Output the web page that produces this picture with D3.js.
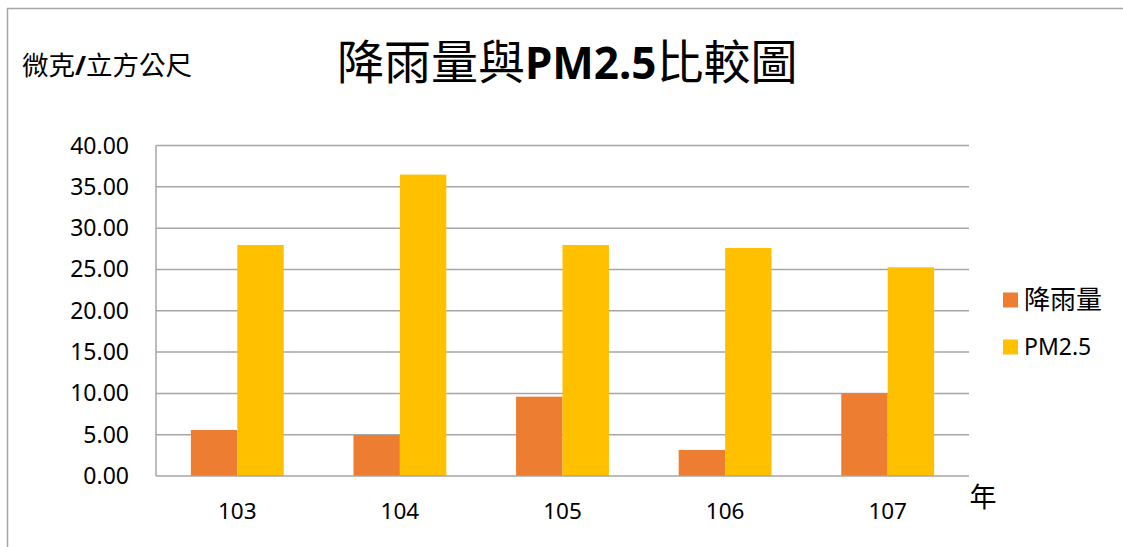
<!DOCTYPE html>
<html><head><meta charset="utf-8">
<script src="https://cdn.jsdelivr.net/npm/d3@7"></script>
<style>
html,body{margin:0;padding:0;background:#fff;}
svg{display:block;font-family:"Noto Sans","Noto Sans CJK TC",sans-serif;}
</style></head>
<body><svg id="c" width="1123" height="547"></svg>
<script>
const years = ["103","104","105","106","107"];
const seriesNames = ["降雨量","PM2.5"];
const rainfall = [5.57, 4.96, 9.60, 3.15, 10.01];
const pm25 = [27.96, 36.48, 27.96, 27.60, 25.26];
const yTicks = [0,5,10,15,20,25,30,35,40];
const colors = ["#ED7D31","#FFC000"];

const svg = d3.select("#c");
const m = {left:156, right:969, top:145.5, bottom:476};

svg.append("rect").attr("x",7.5).attr("y",8.5).attr("width",1300).attr("height",700)
  .attr("fill","#fff").attr("stroke","#a6a6a6").attr("stroke-width",1.5);

const y = d3.scaleLinear().domain([0,40]).range([m.bottom,m.top]);
const x0 = d3.scaleBand().domain(years).range([m.left,m.right]).padding(0);
const x1 = d3.scaleBand().domain(seriesNames)
  .range([x0.bandwidth()*0.2145, x0.bandwidth()*0.7855]).padding(0);

// gridlines
svg.append("g").selectAll("line").data(yTicks.filter(d=>d>0)).join("line")
  .attr("x1",m.left).attr("x2",m.right)
  .attr("y1",d=>y(d)).attr("y2",d=>y(d))
  .attr("stroke","#a6a6a6").attr("stroke-width",1.5);

// bars
const data = years.map((yr,i)=>({yr, vals:[rainfall[i], pm25[i]]}));
const g = svg.append("g").selectAll("g").data(data).join("g")
  .attr("transform",d=>`translate(${x0(d.yr)},0)`);
g.selectAll("rect").data(d=>d.vals.map((v,j)=>({v,name:seriesNames[j],j}))).join("rect")
  .attr("x",d=>x1(d.name)).attr("width",x1.bandwidth())
  .attr("y",d=>y(d.v)).attr("height",d=>y(0)-y(d.v))
  .attr("fill",d=>colors[d.j]);

// axes lines
svg.append("line").attr("x1",m.left).attr("x2",m.left).attr("y1",m.top).attr("y2",m.bottom)
  .attr("stroke","#a6a6a6").attr("stroke-width",1.5);
svg.append("line").attr("x1",m.left).attr("x2",m.right).attr("y1",m.bottom).attr("y2",m.bottom)
  .attr("stroke","#a6a6a6").attr("stroke-width",1.5);

// y tick labels
svg.append("g").selectAll("text").data(yTicks).join("text")
  .attr("x",129).attr("y",d=>y(d)).attr("dy","0.35em")
  .attr("text-anchor","end").attr("font-size",23).attr("fill","#000")
  .text(d=>d3.format(".2f")(d));

// x labels
svg.append("g").selectAll("text").data(years).join("text")
  .attr("x",d=>x0(d)+x0.bandwidth()/2).attr("y",519)
  .attr("text-anchor","middle").attr("font-size",22.5).attr("fill","#000")
  .text(d=>d);

// title
const t = svg.append("text").attr("x",337).attr("y",79).attr("font-size",47).attr("fill","#000");
t.append("tspan").attr("font-family","Noto Sans CJK TC").text("降雨量與");
t.append("tspan").attr("font-weight","bold").attr("font-size",44).attr("font-family","Noto Sans").text("PM2.5");
t.append("tspan").attr("font-family","Noto Sans CJK TC").text("比較圖");

// unit label
const u = svg.append("text").attr("x",22).attr("y",75).attr("font-size",26.5).attr("fill","#000");
u.append("tspan").attr("font-family","Noto Sans CJK TC").text("微克");
u.append("tspan").attr("font-weight","bold").attr("font-family","Noto Sans").text("/");
u.append("tspan").attr("font-family","Noto Sans CJK TC").text("立方公尺");

// year label
svg.append("text").attr("x",983).attr("y",507).attr("text-anchor","middle")
  .attr("font-size",27).attr("font-family","Noto Sans CJK TC").attr("fill","#000").text("年");

// legend
const legY = [300, 347];
const lg = svg.append("g").selectAll("g").data(seriesNames).join("g");
lg.append("rect").attr("x",1003).attr("y",(d,i)=>legY[i]-7.5).attr("width",15).attr("height",15)
  .attr("fill",(d,i)=>colors[i]);
lg.append("text").attr("x",1024).attr("y",(d,i)=>legY[i]).attr("dy","0.35em")
  .attr("font-size",(d,i)=>i===0?26:23).attr("fill","#000").text(d=>d);
</script></body></html>
